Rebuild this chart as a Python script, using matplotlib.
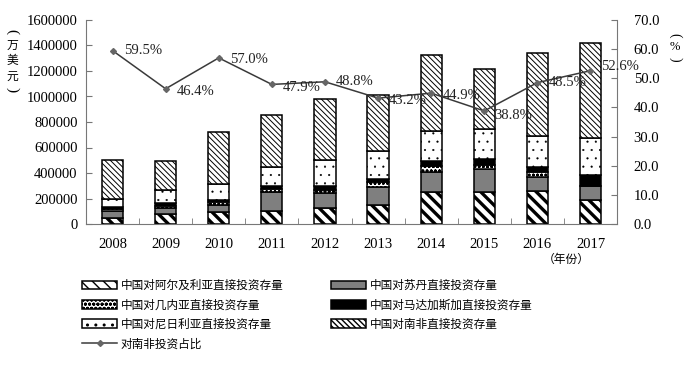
import matplotlib
matplotlib.use("Agg")
import matplotlib.pyplot as plt
from matplotlib.patches import Patch
from matplotlib.lines import Line2D
import numpy as np

plt.rcParams['font.family'] = ['Liberation Serif', 'Noto Sans CJK SC', 'DejaVu Sans']
plt.rcParams['axes.unicode_minus'] = False

# 数据（单位：万美元）
years = ['2008', '2009', '2010', '2011', '2012', '2013', '2014', '2015', '2016', '2017']
algeria = [45000, 76000, 91000, 102000, 123000, 149000, 248000, 254000, 259000, 188000]
sudan = [60000, 47000, 58000, 152000, 123000, 144000, 162000, 175000, 112000, 110000]
guinea = [10000, 18000, 26000, 21000, 21000, 39000, 47000, 36000, 34000, 0]
madagascar = [15000, 26000, 13000, 25000, 33000, 21000, 40000, 42000, 39000, 86000]
niger = [70000, 100000, 123000, 144000, 202000, 223000, 235000, 238000, 248000, 288000]
south_africa = [305000, 230000, 413000, 409000, 478000, 438000, 596000, 473000, 652000, 748000]
sa_share = [59.5, 46.4, 57.0, 47.9, 48.8, 43.2, 44.9, 38.8, 48.5, 52.6]

series = [
    ('中国对阿尔及利亚直接投资存量', algeria, dict(facecolor='white', hatch='\\\\\\', hlw=2.4)),
    ('中国对苏丹直接投资存量', sudan, dict(facecolor='#7f7f7f', hatch=None, hlw=1.0)),
    ('中国对几内亚直接投资存量', guinea, dict(facecolor='white', hatch='oooo', hlw=0.8)),
    ('中国对马达加斯加直接投资存量', madagascar, dict(facecolor='black', hatch=None, hlw=1.0)),
    ('中国对尼日利亚直接投资存量', niger, dict(facecolor='white', hatch='..', hlw=0.3)),
    ('中国对南非直接投资存量', south_africa, dict(facecolor='white', hatch='\\\\\\\\\\\\', hlw=0.7)),
]

fig = plt.figure(figsize=(6.86, 3.75), dpi=100)
ax = fig.add_axes([86 / 686, 1 - 224 / 375, 531 / 686, 204 / 375])
ax2 = ax.twinx()

x = np.arange(len(years))
width = 0.4
bottom = np.zeros(len(years))
handles = {}
for name, vals, st in series:
    bars = ax.bar(x, vals, width, bottom=bottom, facecolor=st['facecolor'],
                  edgecolor='black', linewidth=1.1, hatch=st['hatch'], zorder=2)
    for b in bars:
        if hasattr(b, 'set_hatch_linewidth'):
            b.set_hatch_linewidth(st['hlw'])
    bottom += np.array(vals)
    h = Patch(facecolor=st['facecolor'], edgecolor='black', linewidth=1.1, hatch=st['hatch'])
    if hasattr(h, 'set_hatch_linewidth'):
        h.set_hatch_linewidth(st['hlw'])
    handles[name] = h

ax.set_xlim(-0.5, len(years) - 0.5)
ax.set_ylim(0, 1600000)
ax.set_yticks(np.arange(0, 1600001, 200000))
ax.set_yticklabels([str(v) for v in range(0, 1600001, 200000)], fontsize=10.5)
ax.set_xticks(x)
ax.set_xticklabels(years, fontsize=10.5)
ax.set_xticks(np.arange(-0.5, len(years)), minor=True)
ax.tick_params(axis='x', which='major', length=0, pad=10)
ax.tick_params(axis='x', which='minor', direction='in', length=4, color='#777777')
ax.tick_params(axis='y', direction='in', length=4, color='#777777', pad=6)
for s in ['top', 'right']:
    ax.spines[s].set_visible(False)
for s in ['left', 'bottom']:
    ax.spines[s].set_color('#777777')

ax2.set_ylim(0, 70)
ax2.set_yticks(np.arange(0, 71, 10))
ax2.set_yticklabels([f'{v:.1f}' for v in range(0, 71, 10)], fontsize=10.5)
ax2.tick_params(axis='y', direction='in', length=4, color='#777777', pad=12)
for s in ['top', 'left', 'bottom']:
    ax2.spines[s].set_visible(False)
ax2.spines['right'].set_color('#777777')

line_color = '#3a3a3a'
ax2.plot(x, sa_share, color=line_color, linewidth=1.1, marker='D', markersize=3,
         markerfacecolor='#666666', markeredgecolor='#666666', zorder=5)
offsets = [(8, 0), (8, -2), (8, -1), (8, -2), (8, 0), (8, -2), (8, -2), (7, -3), (8, 0), (8, 3)]
for xi, v, off in zip(x, sa_share, offsets):
    ax2.annotate(f'{v:.1f}%', (xi, v), xytext=off, textcoords='offset points',
                 ha='left', va='center', fontsize=10.5, color='#222222', zorder=6)

# 轴标题（竖排）
cjk = ['Noto Sans CJK SC']
for ch, yy in [('(', 32), ('万', 45), ('美', 61), ('元', 76), (')', 90)]:
    if ch in '()':
        fig.text(12 / 686, 1 - yy / 375, ch, ha='center', va='center', rotation=-90,
                 fontsize=11, family=['Liberation Serif'])
    else:
        fig.text(12 / 686, 1 - yy / 375, ch, ha='center', va='center',
                 fontsize=8.5, family=cjk)
for ch, yy in [('(', 35), ('%', 47), (')', 59)]:
    rot = -90 if ch in '()' else 0
    fig.text(675 / 686, 1 - yy / 375, ch, ha='center', va='center', rotation=rot,
             fontsize=10 if rot else 9, family=['Liberation Serif'])
fig.text(566 / 686, 1 - 259 / 375, '（年份）', ha='center', va='center',
         fontsize=8.5, family=cjk)

line_handle = Line2D([], [], color=line_color, linewidth=1.1, marker='D', markersize=3,
                     markerfacecolor='#666666', markeredgecolor='#666666')
names = [s[0] for s in series]
order = [names[0], names[2], names[4], '对南非投资占比', names[1], names[3], names[5]]
hs = [line_handle if n == '对南非投资占比' else handles[n] for n in order]
fig.legend(hs, order, loc='upper left', bbox_to_anchor=(82 / 686, 1 - 279 / 375),
           ncol=2, frameon=False, prop={'family': cjk, 'size': 8.4},
           handlelength=3.0, handleheight=0.75, handletextpad=0.3,
           labelspacing=0.55, columnspacing=4.1, borderaxespad=0, borderpad=0)

fig.savefig('out.png', dpi=100, facecolor='white')
